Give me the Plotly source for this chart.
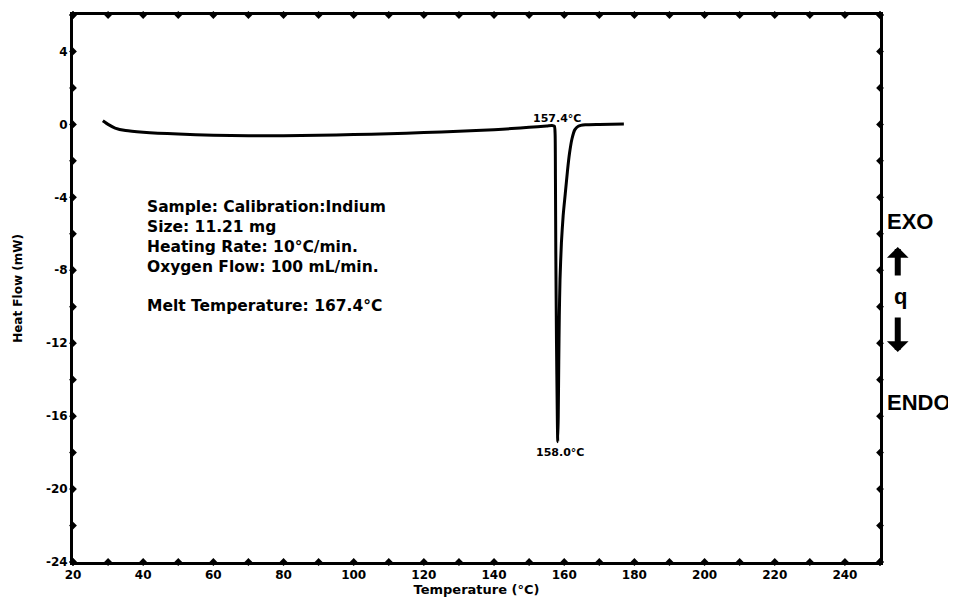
import plotly.graph_objects as go

# ---- data ----
temp = [28.5, 30, 32, 35, 40, 50, 60, 70, 80, 90, 100, 110, 120, 130, 140, 145, 150, 155, 156.5,
        157.2, 157.4, 157.5, 157.6, 157.8, 158.0, 158.15, 158.3, 158.45, 158.6, 158.8, 159.2,
        159.7, 160.3, 160.9, 161.5, 162.2, 163.0, 164.0, 166.0, 170.0, 177.0]
heat = [0.2, 0.0, -0.2, -0.34, -0.43, -0.53, -0.59, -0.62, -0.62, -0.6, -0.56, -0.51, -0.45, -0.38, -0.29, -0.23, -0.16, -0.09, -0.06,
        -0.1, -0.5, -3.0, -7.0, -12.0, -15.5, -17.4, -16.0, -13.0, -10.5, -8.5, -6.5,
        -5.0, -3.8, -2.6, -1.6, -0.8, -0.3, -0.1, -0.02, 0.0, 0.02]

x_ticks = list(range(20, 241, 20))
x_minor = list(range(20, 251, 10))
y_ticks = list(range(-24, 5, 4))
y_minor = list(range(-24, 7, 2))
x_range = [20, 250]
y_range = [-24, 6]

onset_label = "157.4°C"
onset_pos = (157.9, 0.35)
peak_label = "158.0°C"
peak_pos = (158.9, -18.0)

info_lines = ["Sample: Calibration:Indium", "Size: 11.21 mg", "Heating Rate: 10°C/min.",
              "Oxygen Flow: 100 mL/min."]
melt_line = "Melt Temperature: 167.4°C"

fig = go.Figure()
fig.add_trace(go.Scatter(x=temp, y=heat, mode="lines",
                         line=dict(color="black", width=3, shape="spline", smoothing=0.6),
                         hoverinfo="skip", showlegend=False))

# tick dots along the frame
dot = dict(color="black", size=6, symbol="diamond")
fig.add_trace(go.Scatter(x=x_minor, y=[y_range[0]] * len(x_minor), mode="markers", marker=dot,
                         cliponaxis=False, showlegend=False, hoverinfo="skip"))
fig.add_trace(go.Scatter(x=x_minor, y=[y_range[1]] * len(x_minor), mode="markers", marker=dot,
                         cliponaxis=False, showlegend=False, hoverinfo="skip"))
fig.add_trace(go.Scatter(x=[x_range[0]] * len(y_minor), y=y_minor, mode="markers", marker=dot,
                         cliponaxis=False, showlegend=False, hoverinfo="skip"))
fig.add_trace(go.Scatter(x=[x_range[1]] * len(y_minor), y=y_minor, mode="markers", marker=dot,
                         cliponaxis=False, showlegend=False, hoverinfo="skip"))

tickfont = dict(family="DejaVu Sans", size=12, color="black", weight="bold")
fig.update_xaxes(range=x_range, tickvals=x_ticks, ticktext=[str(v) for v in x_ticks],
                 showgrid=False, zeroline=False, showline=True, linecolor="black", linewidth=3,
                 mirror=True, ticks="", tickfont=tickfont, automargin=False,
                 title=dict(text="Temperature (°C)",
                            font=dict(family="DejaVu Sans", size=13, color="black", weight="bold"),
                            standoff=2))
fig.update_yaxes(range=y_range, tickvals=y_ticks, ticktext=[str(v) for v in y_ticks],
                 showgrid=False, zeroline=False, showline=True, linecolor="black", linewidth=3,
                 mirror=True, ticks="", tickfont=tickfont, automargin=False,
                 title=dict(text="Heat Flow (mW)",
                            font=dict(family="DejaVu Sans", size=12, color="black", weight="bold"),
                            standoff=21))

lab_font = dict(family="DejaVu Sans", size=11, color="black", weight="bold")
ann = []
ann.append(dict(x=onset_pos[0], y=onset_pos[1], text=onset_label, showarrow=False,
                font=lab_font, yanchor="middle"))
ann.append(dict(x=peak_pos[0], y=peak_pos[1], text=peak_label, showarrow=False,
                font=lab_font, yanchor="middle"))
info_font = dict(family="DejaVu Sans", size=15.5, color="black", weight="bold")
ann.append(dict(x=0.089, y=0.67, xref="paper", yref="paper", xanchor="left", yanchor="top",
                text="<br>".join(info_lines), align="left", showarrow=False, font=info_font))
ann.append(dict(x=0.089, y=0.468, xref="paper", yref="paper", xanchor="left", yanchor="middle",
                text=melt_line, align="left", showarrow=False, font=info_font))
side_font = dict(family="Liberation Sans", size=22, color="black", weight="bold")
ann.append(dict(x=1.006, y=0.622, xref="paper", yref="paper", xanchor="left", yanchor="middle",
                text="EXO", showarrow=False, font=side_font))
ann.append(dict(x=1.006, y=0.292, xref="paper", yref="paper", xanchor="left", yanchor="middle",
                text="ENDO", showarrow=False, font=side_font))
ann.append(dict(x=1.015, y=0.485, xref="paper", yref="paper", xanchor="left", yanchor="middle",
                text="q", showarrow=False, font=side_font))
ann.append(dict(x=1.022, y=0.576, xref="paper", yref="paper", ax=0, ay=30, showarrow=True,
                arrowhead=1, arrowsize=0.6, arrowwidth=6, arrowcolor="black", text=""))
ann.append(dict(x=1.022, y=0.384, xref="paper", yref="paper", ax=0, ay=-36, showarrow=True,
                arrowhead=1, arrowsize=0.6, arrowwidth=6, arrowcolor="black", text=""))

# page body has an 8px default margin, so the figure is sized to fit the 956x602 window
fig.update_layout(width=948, height=594, margin=dict(l=65, r=76, t=7, b=40, autoexpand=False),
                  plot_bgcolor="white", paper_bgcolor="white", annotations=ann,
                  font=dict(family="DejaVu Sans", color="black"))
fig.write_html("out.html")
